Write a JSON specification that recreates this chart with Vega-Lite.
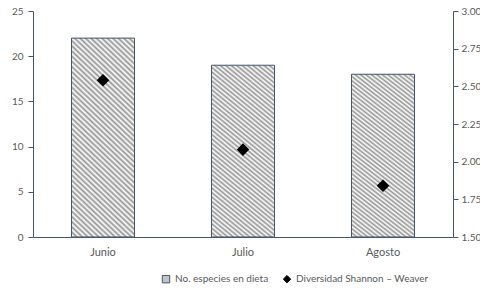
{
  "$schema": "https://vega.github.io/schema/vega-lite/v6.json",
  "width": 420,
  "height": 226,
  "autosize": {"type": "none"},
  "padding": {"left": 33, "top": 11, "right": 27, "bottom": 52},
  "background": "white",
  "config": {
    "view": {"stroke": null},
    "font": "Lato",
    "axis": {"labelFont": "Lato", "labelColor": "#595959", "domainColor": "#44546a", "tickColor": "#44546a", "grid": false, "title": null}
  },
  "data": {
    "values": [
      {"mes": "Junio", "especies": 22, "diversidad": 2.54},
      {"mes": "Julio", "especies": 19, "diversidad": 2.08},
      {"mes": "Agosto", "especies": 18, "diversidad": 1.84}
    ]
  },
  "encoding": {
    "x": {
      "field": "mes", "type": "nominal", "sort": null,
      "scale": {"paddingInner": 0.55, "paddingOuter": 0.275},
      "axis": {"labelAngle": 0, "ticks": false, "labelPadding": 9, "labelFontSize": 11, "domainWidth": 1}
    }
  },
  "layer": [
    {
      "mark": {
        "type": "bar",
        "stroke": "#44546a",
        "strokeWidth": 1,
        "fill": {
          "gradient": "linear",
          "x1": 0, "y1": 1, "x2": 0.358, "y2": -0.193,
          "stops": [
            {"offset": 0.00, "color": "#959595"}, {"offset": 0.01, "color": "#ffffff"},
            {"offset": 0.02, "color": "#959595"}, {"offset": 0.03, "color": "#ffffff"},
            {"offset": 0.04, "color": "#959595"}, {"offset": 0.05, "color": "#ffffff"},
            {"offset": 0.06, "color": "#959595"}, {"offset": 0.07, "color": "#ffffff"},
            {"offset": 0.08, "color": "#959595"}, {"offset": 0.09, "color": "#ffffff"},
            {"offset": 0.10, "color": "#959595"}, {"offset": 0.11, "color": "#ffffff"},
            {"offset": 0.12, "color": "#959595"}, {"offset": 0.13, "color": "#ffffff"},
            {"offset": 0.14, "color": "#959595"}, {"offset": 0.15, "color": "#ffffff"},
            {"offset": 0.16, "color": "#959595"}, {"offset": 0.17, "color": "#ffffff"},
            {"offset": 0.18, "color": "#959595"}, {"offset": 0.19, "color": "#ffffff"},
            {"offset": 0.20, "color": "#959595"}, {"offset": 0.21, "color": "#ffffff"},
            {"offset": 0.22, "color": "#959595"}, {"offset": 0.23, "color": "#ffffff"},
            {"offset": 0.24, "color": "#959595"}, {"offset": 0.25, "color": "#ffffff"},
            {"offset": 0.26, "color": "#959595"}, {"offset": 0.27, "color": "#ffffff"},
            {"offset": 0.28, "color": "#959595"}, {"offset": 0.29, "color": "#ffffff"},
            {"offset": 0.30, "color": "#959595"}, {"offset": 0.31, "color": "#ffffff"},
            {"offset": 0.32, "color": "#959595"}, {"offset": 0.33, "color": "#ffffff"},
            {"offset": 0.34, "color": "#959595"}, {"offset": 0.35, "color": "#ffffff"},
            {"offset": 0.36, "color": "#959595"}, {"offset": 0.37, "color": "#ffffff"},
            {"offset": 0.38, "color": "#959595"}, {"offset": 0.39, "color": "#ffffff"},
            {"offset": 0.40, "color": "#959595"}, {"offset": 0.41, "color": "#ffffff"},
            {"offset": 0.42, "color": "#959595"}, {"offset": 0.43, "color": "#ffffff"},
            {"offset": 0.44, "color": "#959595"}, {"offset": 0.45, "color": "#ffffff"},
            {"offset": 0.46, "color": "#959595"}, {"offset": 0.47, "color": "#ffffff"},
            {"offset": 0.48, "color": "#959595"}, {"offset": 0.49, "color": "#ffffff"},
            {"offset": 0.50, "color": "#959595"}, {"offset": 0.51, "color": "#ffffff"},
            {"offset": 0.52, "color": "#959595"}, {"offset": 0.53, "color": "#ffffff"},
            {"offset": 0.54, "color": "#959595"}, {"offset": 0.55, "color": "#ffffff"},
            {"offset": 0.56, "color": "#959595"}, {"offset": 0.57, "color": "#ffffff"},
            {"offset": 0.58, "color": "#959595"}, {"offset": 0.59, "color": "#ffffff"},
            {"offset": 0.60, "color": "#959595"}, {"offset": 0.61, "color": "#ffffff"},
            {"offset": 0.62, "color": "#959595"}, {"offset": 0.63, "color": "#ffffff"},
            {"offset": 0.64, "color": "#959595"}, {"offset": 0.65, "color": "#ffffff"},
            {"offset": 0.66, "color": "#959595"}, {"offset": 0.67, "color": "#ffffff"},
            {"offset": 0.68, "color": "#959595"}, {"offset": 0.69, "color": "#ffffff"},
            {"offset": 0.70, "color": "#959595"}, {"offset": 0.71, "color": "#ffffff"},
            {"offset": 0.72, "color": "#959595"}, {"offset": 0.73, "color": "#ffffff"},
            {"offset": 0.74, "color": "#959595"}, {"offset": 0.75, "color": "#ffffff"},
            {"offset": 0.76, "color": "#959595"}, {"offset": 0.77, "color": "#ffffff"},
            {"offset": 0.78, "color": "#959595"}, {"offset": 0.79, "color": "#ffffff"},
            {"offset": 0.80, "color": "#959595"}, {"offset": 0.81, "color": "#ffffff"},
            {"offset": 0.82, "color": "#959595"}, {"offset": 0.83, "color": "#ffffff"},
            {"offset": 0.84, "color": "#959595"}, {"offset": 0.85, "color": "#ffffff"},
            {"offset": 0.86, "color": "#959595"}, {"offset": 0.87, "color": "#ffffff"},
            {"offset": 0.88, "color": "#959595"}, {"offset": 0.89, "color": "#ffffff"},
            {"offset": 0.90, "color": "#959595"}, {"offset": 0.91, "color": "#ffffff"},
            {"offset": 0.92, "color": "#959595"}, {"offset": 0.93, "color": "#ffffff"},
            {"offset": 0.94, "color": "#959595"}, {"offset": 0.95, "color": "#ffffff"},
            {"offset": 0.96, "color": "#959595"}, {"offset": 0.97, "color": "#ffffff"},
            {"offset": 0.98, "color": "#959595"}, {"offset": 0.99, "color": "#ffffff"},
            {"offset": 1.00, "color": "#959595"}
          ]
        }
      },
      "encoding": {
        "y": {
          "field": "especies", "type": "quantitative",
          "scale": {"domain": [0, 25], "nice": false},
          "axis": {"values": [0, 5, 10, 15, 20, 25], "tickSize": 5, "labelPadding": 5, "labelFontSize": 10}
        }
      }
    },
    {
      "mark": {"type": "point", "filled": true, "size": 95, "opacity": 1},
      "encoding": {
        "y": {
          "field": "diversidad", "type": "quantitative",
          "scale": {"domain": [1.5, 3], "nice": false, "zero": false},
          "axis": {"orient": "right", "values": [1.5, 1.75, 2, 2.25, 2.5, 2.75, 3], "format": ".2f", "tickSize": 5, "labelPadding": 3, "labelFontSize": 10}
        },
        "shape": {
          "datum": "Diversidad Shannon – Weaver",
          "scale": {"domain": ["No. especies en dieta", "Diversidad Shannon – Weaver"], "range": ["square", "diamond"]},
          "legend": {
            "title": null, "orient": "none", "direction": "horizontal",
            "legendX": 128, "legendY": 263,
            "symbolSize": 55, "labelFontSize": 10, "labelColor": "#595959", "labelFont": "Lato",
            "columnPadding": 12, "symbolStrokeWidth": 1
          }
        },
        "fill": {
          "datum": "Diversidad Shannon – Weaver",
          "scale": {"domain": ["No. especies en dieta", "Diversidad Shannon – Weaver"], "range": ["#c4c4c4", "#000000"]}
        },
        "stroke": {
          "datum": "Diversidad Shannon – Weaver",
          "scale": {"domain": ["No. especies en dieta", "Diversidad Shannon – Weaver"], "range": ["#44546a", "#000000"]}
        }
      }
    }
  ],
  "resolve": {"scale": {"y": "independent"}}
}
